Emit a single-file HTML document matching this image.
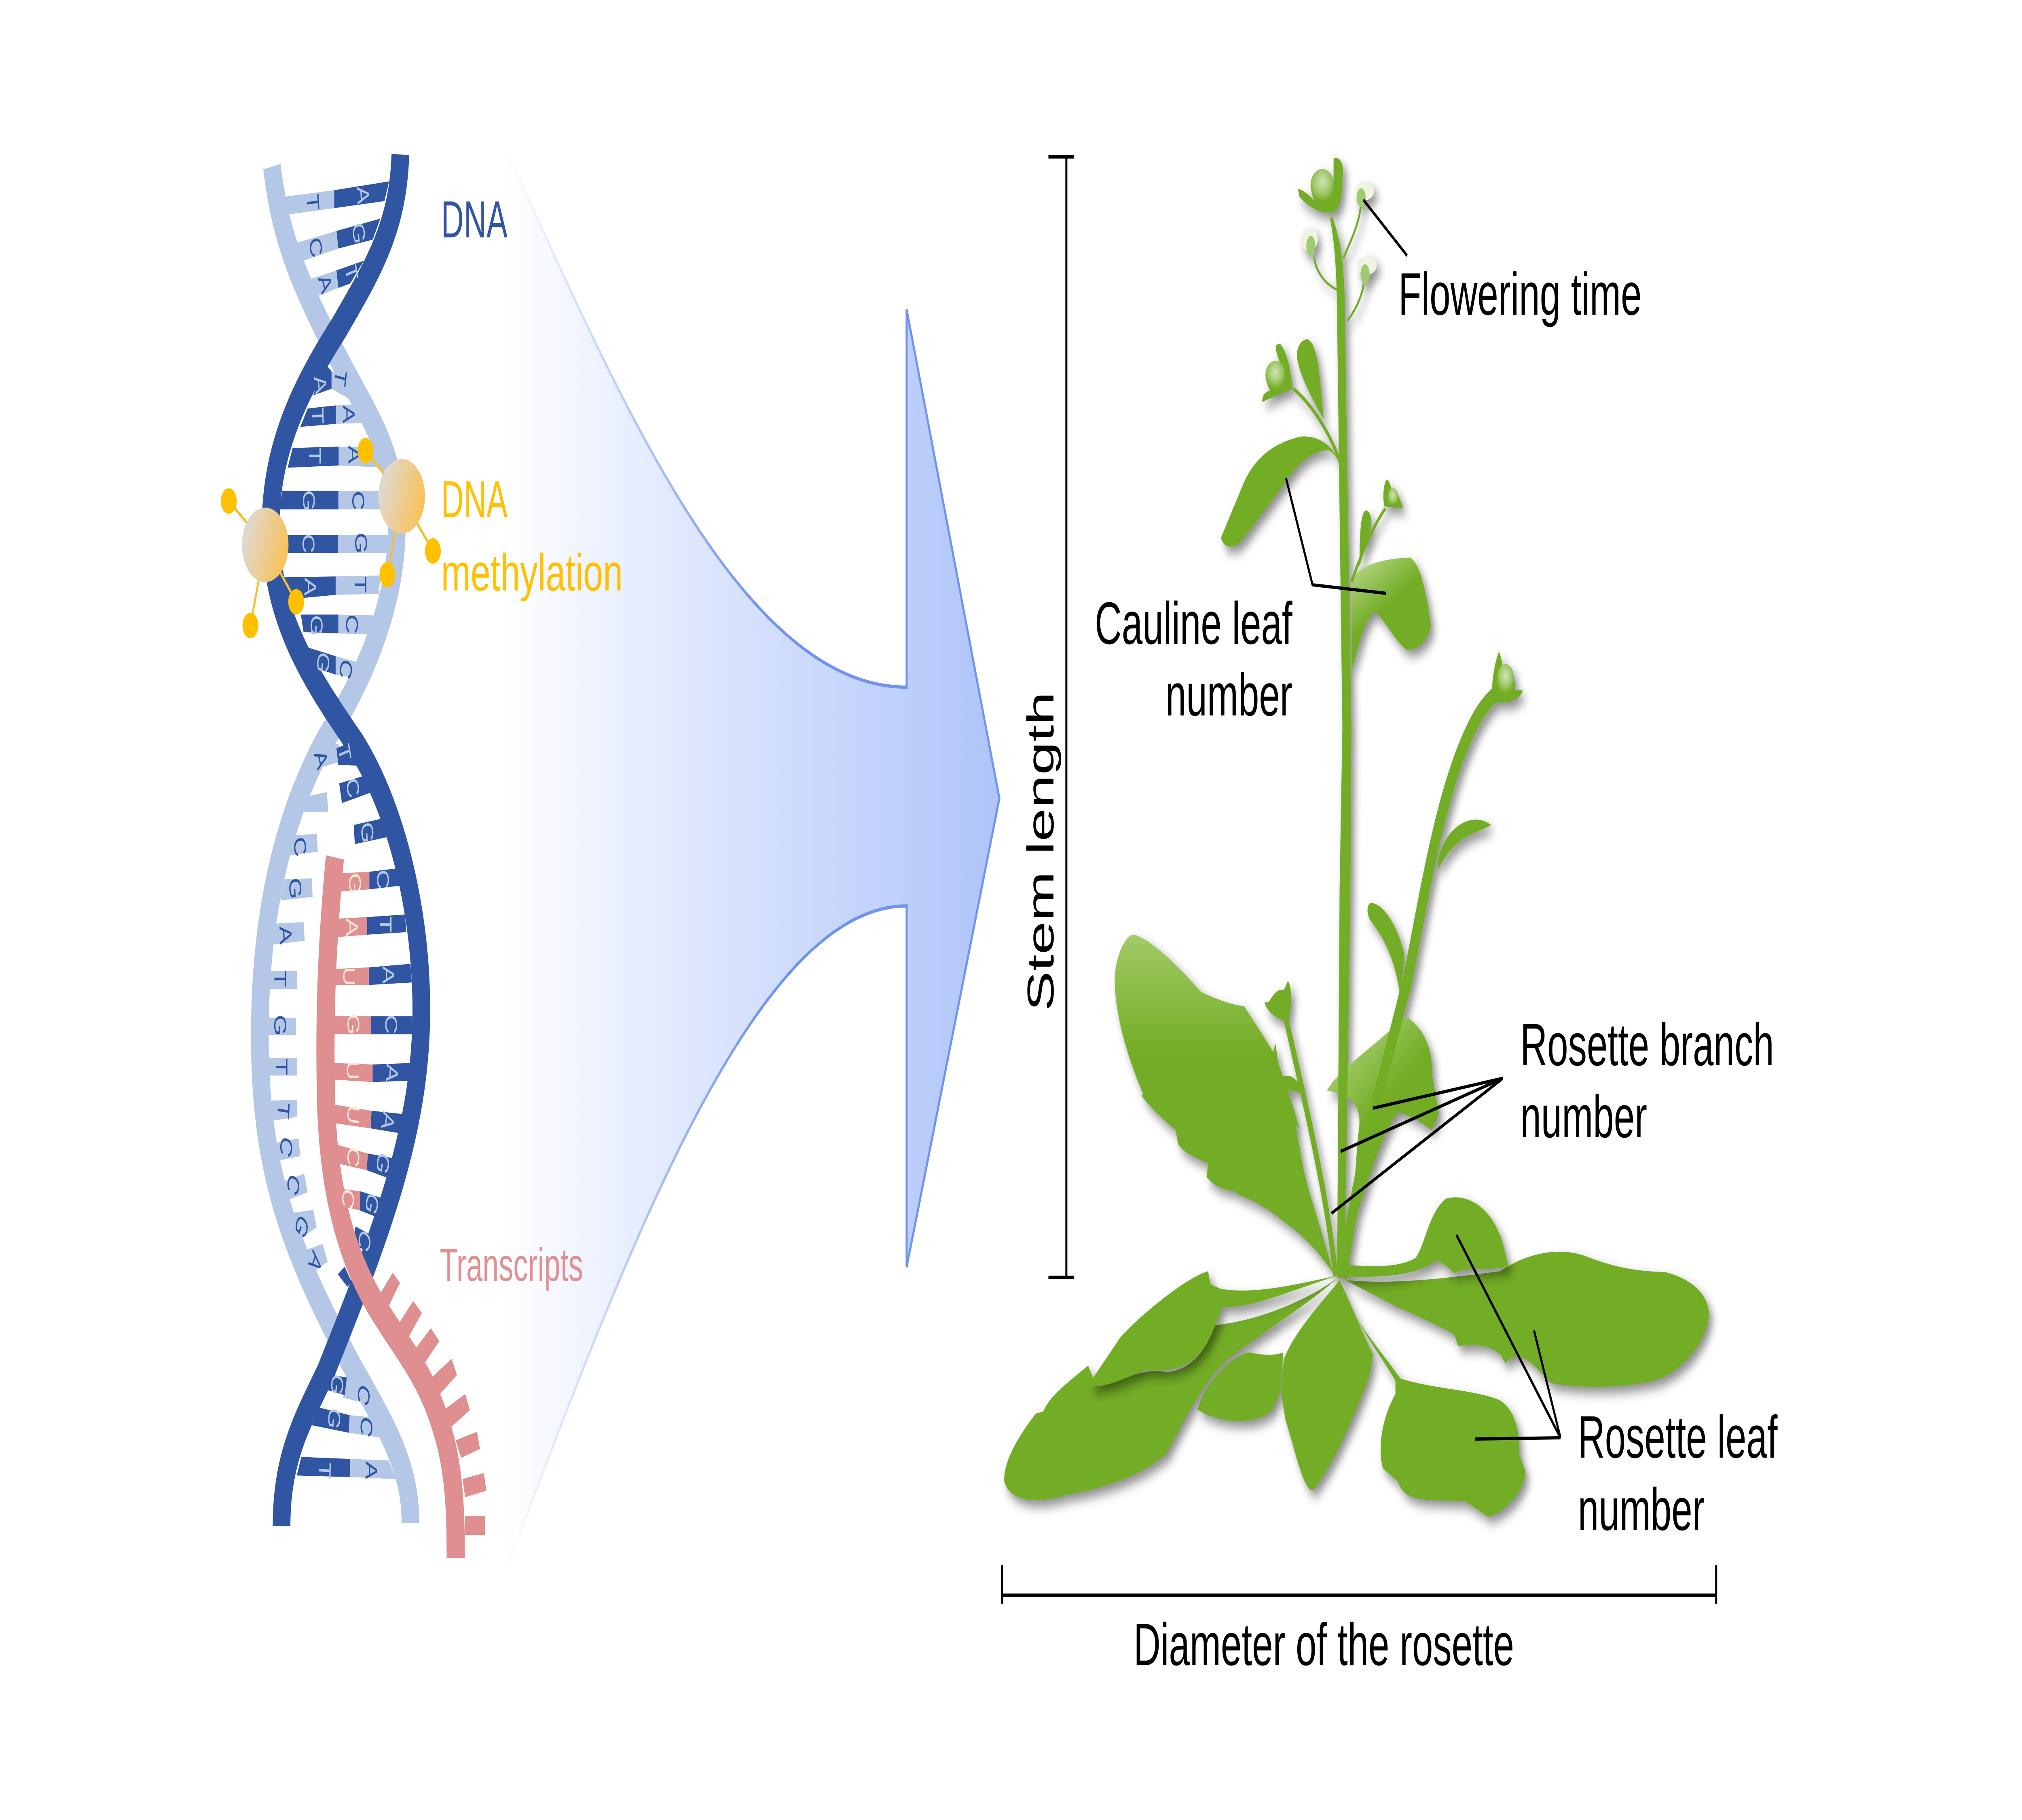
<!DOCTYPE html>
<html><head><meta charset="utf-8"><style>
html,body{margin:0;padding:0;background:#fff;width:100%;height:100%;overflow:hidden}
svg{display:block;width:100%;height:100%}
.l{text-anchor:middle;dominant-baseline:central;font:62px "Liberation Sans",sans-serif}
.d{fill:#2f55a3}.b{fill:#b4c7e7}.p{fill:#fbe5d6}
.t{font:148px "Liberation Sans",sans-serif;fill:#000}
.ln{stroke:#000;stroke-width:8;fill:none}
.g{fill:#73ad25}
</style></head><body>
<svg xmlns="http://www.w3.org/2000/svg" viewBox="0 0 8000 4500" preserveAspectRatio="none">
<defs>
<linearGradient id="ag" gradientUnits="userSpaceOnUse" x1="1990" y1="0" x2="3954" y2="0"><stop offset="0" stop-color="#fff"/><stop offset=".26" stop-color="#e8eefe"/><stop offset="1" stop-color="#aec4fa"/></linearGradient>
<linearGradient id="as" gradientUnits="userSpaceOnUse" x1="1990" y1="0" x2="3000" y2="0"><stop offset="0" stop-color="#fff"/><stop offset="1" stop-color="#6f93ee"/></linearGradient>
<linearGradient id="ball" x1="0" y1="0" x2="1" y2=".35"><stop offset="0" stop-color="#dbdde6"/><stop offset="1" stop-color="#f7c35f"/></linearGradient>
<linearGradient id="hl" x1="0" y1="0" x2="0" y2="1"><stop offset="0" stop-color="#a2cb68"/><stop offset=".35" stop-color="#73ad25"/></linearGradient>
<linearGradient id="cl" x1=".25" y1="0" x2=".5" y2=".4"><stop offset="0" stop-color="#aed27a"/><stop offset="1" stop-color="#73ad25"/></linearGradient>
<radialGradient id="fl" cx=".5" cy=".4" r=".6"><stop offset="0" stop-color="#d0e4b6"/><stop offset=".55" stop-color="#a5cb70"/><stop offset="1" stop-color="#73ad25"/></radialGradient>
<filter id="sh" filterUnits="userSpaceOnUse" x="3800" y="300" width="3300" height="3600"><feDropShadow dx="14" dy="16" stdDeviation="14" flood-color="#000" flood-opacity=".45"/></filter>
</defs>

<!-- arrow -->
<path d="M1990,357 C2400,900 2900,1699 3587,1699 L3587,765 L3954,1974 L3587,3133 L3587,2240 C3000,2240 2500,3050 1990,3903 Z" fill="url(#ag)"/>
<path d="M1990,357 C2400,900 2900,1699 3587,1699 L3587,765 L3954,1974 L3587,3133 L3587,2240 C3000,2240 2500,3050 1990,3903" fill="none" stroke="url(#as)" stroke-width="8"/>

<!-- light strand -->
<path d="M1076,412 C1110,590 1180,700 1385,940 C1500,1070 1570,1150 1570,1300 C1570,1500 1430,1690 1288,1828 C1120,2020 1028,2260 1028,2560 C1028,2900 1150,3090 1385,3368 C1520,3520 1625,3620 1624,3766" fill="none" stroke="#b4c7e7" stroke-width="70"/>

<!-- rungs, zoom 1 space -->
<g transform="translate(800,300) scale(1.084)">
<g class="b">
<polygon points="300,172 482,157 482,198 318,212"/>
<polygon points="340,278 490,250 497,290 360,320"/>
<polygon points="385,362 490,340 497,380 415,400"/>
<polygon points="472,572 530,565 555,640 472,610"/>
<polygon points="488,648 575,645 592,688 488,690"/>
<polygon points="498,742 655,745 680,790 498,785"/>
<polygon points="497,843 700,843 705,885 497,885"/>
<polygon points="495,943 680,943 680,985 495,985"/>
<polygon points="487,1038 650,1036 645,1078 487,1080"/>
<polygon points="497,1125 632,1127 608,1170 497,1168"/>
<polygon points="487,1220 575,1235 555,1270 487,1262"/>
<polygon points="420,1430 497,1420 505,1460 400,1480"/>
<polygon points="380,1540 455,1530 460,1575 370,1575"/>
</g>
<g class="d">
<polygon points="482,157 682,137 665,182 482,198"/>
<polygon points="490,250 650,222 622,270 497,290"/>
<polygon points="490,340 590,318 540,370 497,380"/>
<polygon points="445,550 472,570 472,610 405,625"/>
<polygon points="385,655 488,648 488,690 358,697"/>
<polygon points="330,745 498,742 498,785 312,790"/>
<polygon points="292,843 497,843 497,885 282,885"/>
<polygon points="300,943 495,943 495,985 300,985"/>
<polygon points="290,1040 487,1038 487,1080 320,1090"/>
<polygon points="360,1125 497,1125 497,1168 370,1165"/>
<polygon points="385,1200 487,1220 487,1262 430,1250"/>
<polygon points="490,1430 548,1415 585,1470 497,1468"/>
<polygon points="500,1510 605,1490 620,1530 510,1555"/>
</g>
</g>

<!-- rungs, zoom 2 space -->
<g transform="translate(800,2000) scale(1.084,1.244)">
<g class="b">
<polygon points="340,52 418,50 422,85 318,92"/>
<polygon points="300,140 400,138 403,175 285,182"/>
<polygon points="265,228 370,225 374,262 255,270"/>
<polygon points="250,322 346,322 346,358 245,358"/>
<polygon points="245,415 342,415 342,450 240,450"/>
<polygon points="243,495 347,495 347,530 243,530"/>
<polygon points="250,580 345,578 347,612 252,620"/>
<polygon points="258,665 352,655 358,690 270,700"/>
<polygon points="275,745 372,725 385,762 290,782"/>
<polygon points="305,805 405,797 418,832 340,860"/>
<polygon points="360,880 440,865 458,900 400,922"/>
<polygon points="520,1130 610,1130 650,1190 515,1170"/>
<polygon points="538,1205 635,1210 655,1250 535,1240"/>
<polygon points="540,1292 680,1295 708,1332 540,1328"/>
</g>
<g class="d">
<polygon points="553,32 650,20 685,55 557,70"/>
<polygon points="610,125 715,118 730,152 610,160"/>
<polygon points="602,215 740,210 745,245 602,250"/>
<polygon points="608,315 760,308 765,345 608,350"/>
<polygon points="617,412 767,412 767,448 617,448"/>
<polygon points="622,508 765,505 762,540 622,543"/>
<polygon points="618,600 742,607 725,645 615,635"/>
<polygon points="605,685 705,695 685,735 600,718"/>
<polygon points="577,760 665,775 640,812 575,798"/>
<polygon points="560,830 625,850 600,880 548,862"/>
<polygon points="495,925 520,910 545,940 530,950"/>
<polygon points="470,1125 528,1130 520,1165 455,1155"/>
<polygon points="428,1190 538,1205 535,1240 400,1225"/>
<polygon points="362,1288 540,1292 540,1328 345,1325"/>
</g>
</g>

<!-- dark strand -->
<path d="M1584,382 C1575,560 1480,660 1342,809 C1200,950 1071,1100 1071,1300 C1071,1520 1210,1660 1407,1839 C1560,1990 1667,2240 1667,2498 C1667,2800 1500,3060 1288,3393 C1200,3510 1114,3600 1114,3773" fill="none" stroke="#2f55a3" stroke-width="70"/>

<!-- pink -->
<path d="M1325,2120 C1295,2320 1282,2500 1290,2720 C1300,2960 1380,3120 1500,3240 C1620,3360 1700,3410 1765,3570 C1800,3660 1803,3760 1803,3852" fill="none" stroke="#df8f8f" stroke-width="72"/>
<g transform="translate(800,2000) scale(1.084,1.244)" fill="#df8f8f">
<polygon points="505,128 610,125 610,160 495,165"/>
<polygon points="490,218 602,215 602,250 488,255"/>
<polygon points="485,318 608,315 608,350 480,350"/>
<polygon points="480,412 617,412 617,448 480,448"/>
<polygon points="480,505 622,508 622,543 480,538"/>
<polygon points="485,588 618,600 615,635 488,625"/>
<polygon points="495,668 605,685 600,718 497,705"/>
<polygon points="505,755 577,760 575,798 515,790"/>
<polygon points="695,922 722,942 675,995 645,968"/>
<polygon points="770,978 802,1002 748,1055 715,1025"/>
<polygon points="835,1032 865,1058 808,1105 775,1075"/>
<polygon points="910,1093 930,1125 865,1165 838,1130"/>
<polygon points="960,1163 977,1195 910,1228 888,1192"/>
<polygon points="1003,1238 1014,1272 945,1290 925,1255"/>
<polygon points="1028,1320 1037,1355 960,1368 950,1332"/>
<polygon points="1032,1405 1032,1443 958,1443 958,1405"/>
</g>

<!-- base letters -->
<g transform="translate(800,300) scale(1.084)">
<text class="l d" transform="translate(405,185) rotate(85)">T</text>
<text class="l b" transform="translate(587,168) rotate(85)">A</text>
<text class="l d" transform="translate(415,287) rotate(75)">C</text>
<text class="l b" transform="translate(572,255) rotate(80)">G</text>
<text class="l d" transform="translate(450,370) rotate(70)">A</text>
<text class="l b" transform="translate(545,345) rotate(75)">T</text>
<text class="l d" transform="translate(505,585) rotate(100)">T</text>
<text class="l b" transform="translate(432,600) rotate(80)">A</text>
<text class="l b" transform="translate(422,672) rotate(88)">T</text>
<text class="l d" transform="translate(535,668) rotate(90)">A</text>
<text class="l b" transform="translate(412,763) rotate(90)">T</text>
<text class="l d" transform="translate(555,760) rotate(90)">A</text>
<text class="l b" transform="translate(390,865) rotate(90)">G</text>
<text class="l d" transform="translate(570,865) rotate(90)">C</text>
<text class="l b" transform="translate(388,963) rotate(90)">C</text>
<text class="l d" transform="translate(580,962) rotate(90)">G</text>
<text class="l b" transform="translate(395,1062) rotate(92)">A</text>
<text class="l d" transform="translate(578,1057) rotate(90)">T</text>
<text class="l b" transform="translate(418,1150) rotate(92)">G</text>
<text class="l d" transform="translate(547,1147) rotate(92)">C</text>
<text class="l b" transform="translate(442,1235) rotate(100)">G</text>
<text class="l d" transform="translate(525,1250) rotate(100)">C</text>
<text class="l d" transform="translate(435,1455) rotate(70)">A</text>
<text class="l b" transform="translate(520,1440) rotate(75)">T</text>
<text class="l b" transform="translate(550,1520) rotate(75)">C</text>
</g>
<g transform="translate(800,2000) scale(1.084,1.244)">
<text class="l b" transform="translate(603,47) rotate(85) scale(.87,1)">G</text>
<text class="l d" transform="translate(357,75) rotate(80) scale(.87,1)">C</text>
<text class="l d" transform="translate(340,158) rotate(85) scale(.87,1)">G</text>
<text class="l d" transform="translate(305,250) rotate(85) scale(.87,1)">A</text>
<text class="l d" transform="translate(285,338) rotate(90) scale(.87,1)">T</text>
<text class="l d" transform="translate(285,430) rotate(90) scale(.87,1)">G</text>
<text class="l d" transform="translate(290,513) rotate(90) scale(.87,1)">T</text>
<text class="l d" transform="translate(297,600) rotate(95) scale(.87,1)">T</text>
<text class="l d" transform="translate(307,672) rotate(105) scale(.87,1)">C</text>
<text class="l d" transform="translate(333,747) rotate(112) scale(.87,1)">C</text>
<text class="l d" transform="translate(363,830) rotate(120) scale(.87,1)">G</text>
<text class="l d" transform="translate(413,900) rotate(120) scale(.87,1)">A</text>
<text class="l b" transform="translate(660,140) rotate(85) scale(.87,1)">C</text>
<text class="l b" transform="translate(670,230) rotate(90) scale(.87,1)">T</text>
<text class="l b" transform="translate(680,330) rotate(90) scale(.87,1)">A</text>
<text class="l b" transform="translate(690,428) rotate(90) scale(.87,1)">C</text>
<text class="l b" transform="translate(693,525) rotate(95) scale(.87,1)">A</text>
<text class="l b" transform="translate(678,620) rotate(100) scale(.87,1)">A</text>
<text class="l b" transform="translate(660,705) rotate(105) scale(.87,1)">G</text>
<text class="l b" transform="translate(620,785) rotate(110) scale(.87,1)">G</text>
<text class="l b" transform="translate(592,858) rotate(115) scale(.87,1)">C</text>
<text class="l p" transform="translate(558,148) rotate(85) scale(.87,1)">G</text>
<text class="l p" transform="translate(547,235) rotate(90) scale(.87,1)">A</text>
<text class="l p" transform="translate(537,333) rotate(90) scale(.87,1)">U</text>
<text class="l p" transform="translate(552,428) rotate(90) scale(.87,1)">G</text>
<text class="l p" transform="translate(550,520) rotate(90) scale(.87,1)">U</text>
<text class="l p" transform="translate(552,608) rotate(95) scale(.87,1)">U</text>
<text class="l p" transform="translate(552,692) rotate(100) scale(.87,1)">C</text>
<text class="l p" transform="translate(533,775) rotate(105) scale(.87,1)">C</text>
<text class="l b" transform="translate(493,1145) rotate(100) scale(.87,1)">G</text>
<text class="l b" transform="translate(482,1212) rotate(100) scale(.87,1)">G</text>
<text class="l b" transform="translate(448,1315) rotate(92) scale(.87,1)">T</text>
<text class="l d" transform="translate(590,1165) rotate(110) scale(.87,1)">C</text>
<text class="l d" transform="translate(600,1228) rotate(105) scale(.87,1)">C</text>
<text class="l d" transform="translate(618,1315) rotate(92) scale(.87,1)">A</text>
</g>

<!-- methylation -->
<g transform="translate(800,300) scale(1.084)">
<g stroke="#f5bf2c" stroke-width="7">
<line x1="97" y1="866" x2="230" y2="966"/><line x1="176" y1="1150" x2="230" y2="966"/><line x1="343" y1="1096" x2="230" y2="966"/>
<line x1="596" y1="751" x2="728" y2="855"/><line x1="676" y1="1034" x2="728" y2="855"/><line x1="842" y1="980" x2="728" y2="855"/>
</g>
<circle cx="230" cy="966" r="85" fill="url(#ball)"/>
<circle cx="728" cy="855" r="85" fill="url(#ball)"/>
<g fill="#ffc000"><circle cx="97" cy="866" r="29"/><circle cx="176" cy="1150" r="29"/><circle cx="343" cy="1096" r="29"/><circle cx="596" cy="751" r="29"/><circle cx="676" cy="1034" r="29"/><circle cx="842" cy="980" r="29"/></g>
</g>

<!-- left labels -->
<g font-family="'Liberation Sans',sans-serif">
<text x="1745" y="587" font-size="129" fill="#2f55a3" textLength="263" lengthAdjust="spacingAndGlyphs">DNA</text>
<text x="1745" y="1279" font-size="129" fill="#ffc000" textLength="263" lengthAdjust="spacingAndGlyphs">DNA</text>
<text x="1745" y="1460" font-size="129" fill="#ffc000" textLength="719" lengthAdjust="spacingAndGlyphs">methylation</text>
<text x="1740" y="3167" font-size="115" fill="#e09090" textLength="567" lengthAdjust="spacingAndGlyphs">Transcripts</text>
</g>

<!-- plant -->
<g filter="url(#sh)">
<g transform="translate(3900,2200) scale(1.977,1.084)">
<path fill="url(#cl)" d="M683,458 C700,420 760,370 800,330 C820,310 835,295 845,292 C880,320 895,370 893,420 L907,510 L893,548 C870,530 845,510 825,508 C800,540 770,640 730,790 L745,560 C755,500 740,470 683,458 Z"/>
<path fill="url(#hl)" d="M295,102 C330,110 390,180 430,232 C460,250 500,265 517,265 C530,290 555,330 575,370 L580,350 L585,395 C600,440 620,510 628,545 L620,535 L630,600 C640,680 670,760 695,875 C680,850 650,800 600,760 C570,730 530,705 505,695 L498,688 C480,685 460,680 442,655 L445,625 C420,610 395,600 385,580 L380,548 C350,520 325,490 312,470 L315,465 C290,400 260,300 258,210 C258,150 280,105 295,102 Z"/>
<path class="g" d="M770,30 C800,30 830,100 838,150 L830,250 C820,150 790,100 770,70 C762,55 762,35 770,30 Z"/>
<path class="g" d="M565,470 C565,440 590,420 610,425 C625,435 635,450 640,470 C620,455 590,450 580,475 Z"/>
<path class="g" d="M605,208 C615,230 612,270 605,300 C590,300 560,280 558,255 C570,265 570,235 590,228 C600,232 600,215 605,208 Z"/>
</g>
<path fill="none" stroke="#73ad25" stroke-width="20" d="M5284,3154 C5250,2950 5165,2731 5086,2514"/>
<path fill="none" stroke="#73ad25" stroke-width="38" d="M5310,3160 C5370,2880 5480,2650 5570,2420 C5640,2200 5700,1950 5830,1790 C5870,1740 5910,1720 5935,1705"/>
<path class="g" d="M5270,534 C5310,600 5315,660 5320,730 L5347,1800 L5343,2200 L5320,3160 L5290,3160 L5300,2200 L5311,1800 L5289,730 C5285,650 5280,600 5262,540 Z"/>
<path class="g" d="M5690,2125 C5720,2040 5830,2005 5900,2040 C5850,2060 5760,2060 5690,2150 Z"/>

<g transform="translate(4500,300) scale(1.283,.957)">
<path class="g" d="M605,95 C625,90 640,110 632,150 C632,190 625,225 605,235 C570,240 530,225 500,195 L495,175 C510,175 535,195 545,205 C530,170 530,135 560,128 C590,128 605,160 605,150 Z"/>
<ellipse cx="570" cy="165" rx="36" ry="42" fill="url(#fl)"/>
<path class="g" d="M525,563 C555,575 560,640 575,770 C540,720 490,640 492,600 C495,575 510,563 525,563 Z"/>
<path class="g" d="M440,575 C460,590 475,650 478,690 L385,725 C385,705 395,700 410,695 C390,670 395,630 425,620 L440,625 C425,590 420,575 440,575 Z"/>
<ellipse cx="425" cy="655" rx="30" ry="36" fill="url(#fl)"/>
<path class="g" d="M625,885 C600,830 550,810 500,815 C430,830 370,860 330,930 L258,1075 C265,1105 295,1105 320,1085 L450,940 C490,890 530,850 590,850 C605,855 615,870 625,885 Z"/>
<path class="g" d="M705,1005 C725,1010 725,1040 710,1080 L685,1150 C685,1100 685,1010 705,1005 Z"/>
<path class="g" d="M770,925 C785,940 780,950 785,950 C805,955 815,990 820,1000 L762,995 C755,970 760,930 770,925 Z"/>
<ellipse cx="788" cy="970" rx="16" ry="22" fill="url(#fl)"/>
<path fill="url(#cl)" d="M660,1180 C700,1140 770,1130 840,1127 C875,1140 895,1240 905,1300 C900,1340 860,1370 830,1365 C790,1340 760,1280 730,1268 C695,1290 680,1370 660,1420 Z"/>
<path class="g" d="M1115,1370 C1130,1400 1120,1410 1130,1405 C1160,1410 1165,1450 1165,1470 L1188,1470 C1180,1500 1130,1505 1100,1500 C1085,1480 1100,1400 1115,1370 Z"/>
<ellipse cx="1135" cy="1440" rx="26" ry="38" fill="url(#fl)"/>
<g fill="none" stroke="#73ad25">
<path stroke-width="6" d="M635,355 C650,320 680,280 690,215"/>
<path stroke-width="6" d="M615,435 C580,420 550,390 545,350"/>
<path stroke-width="6" d="M648,515 C670,490 690,460 698,420"/>
<path stroke-width="9" d="M625,880 C600,820 550,740 480,690"/>
<path stroke-width="8" d="M660,1190 C690,1120 730,1040 765,1000"/>
</g>
<ellipse cx="700" cy="180" rx="30" ry="24" fill="#eef3e2"/>
<ellipse cx="530" cy="305" rx="26" ry="30" fill="#eef3e2"/>
<ellipse cx="708" cy="372" rx="30" ry="24" fill="#eef3e2"/>
<ellipse cx="690" cy="197" rx="14" ry="24" fill="#9fcb6f"/>
<ellipse cx="535" cy="322" rx="14" ry="26" fill="#9fcb6f"/>
<ellipse cx="702" cy="395" rx="14" ry="26" fill="#9fcb6f"/>
</g>

<g transform="translate(3900,2200) scale(1.977,1.084)">
<path class="g" d="M705,885 C650,930 560,980 460,993 L455,1000 C440,1060 400,1100 360,1100 C320,1090 280,1115 220,1130 L205,1085 C170,1120 130,1150 115,1190 L100,1195 C70,1240 35,1300 37,1350 C50,1400 110,1400 160,1380 C230,1370 320,1330 350,1295 L360,1290 C400,1200 440,1120 480,1075 C540,1020 640,950 705,885 Z"/>
</g>
</g>
<g filter="url(#sh)"><g transform="translate(3900,2200) scale(1.977,1.084)">
<path class="g" d="M705,880 C640,895 540,925 470,910 L450,900 L445,870 C400,885 310,970 270,1020 L205,1130 C240,1140 280,1110 325,1095 C370,1100 410,1090 440,1040 C460,1000 470,960 475,950 C520,960 620,910 705,880 Z"/>
</g></g>
<g filter="url(#sh)"><g transform="translate(3900,2200) scale(1.977,1.084)">
<path class="g" d="M595,1065 C590,1130 590,1160 570,1190 C540,1220 470,1220 423,1185 C440,1130 480,1070 525,1055 C550,1060 575,1065 595,1055 Z"/>
<path class="g" d="M708,890 C690,920 620,1000 597,1070 L590,1140 L600,1210 C620,1280 635,1370 655,1370 C690,1320 740,1200 770,1100 L775,1060 C750,1000 725,930 708,890 Z"/>
<path class="g" d="M730,950 C760,1020 800,1080 820,1120 L820,1150 C790,1210 785,1280 795,1320 L825,1350 C840,1400 880,1390 960,1395 L1005,1430 C1040,1420 1080,1370 1080,1325 L1068,1290 C1068,1230 1060,1190 1030,1165 C980,1140 900,1140 830,1115 C790,1050 750,1000 730,950 Z"/>
<path class="g" d="M720,890 C800,900 900,890 1030,870 C1080,830 1150,810 1210,840 C1270,865 1310,870 1360,872 C1420,890 1450,930 1447,975 C1440,1030 1400,1090 1350,1115 C1300,1135 1200,1140 1130,1125 C1100,1090 1070,1040 1040,1080 L1030,1060 C1000,1030 960,1040 945,1040 L938,1015 C900,990 860,970 820,950 C790,930 750,910 720,890 Z"/>
</g></g>
<g filter="url(#sh)"><g transform="translate(3900,2200) scale(1.977,1.084)">
<path class="g" d="M720,855 C780,862 830,860 860,840 C880,810 885,740 920,705 C960,690 1020,720 1040,830 L1047,860 C1000,870 950,860 940,875 C920,860 910,840 895,850 C860,880 790,885 720,882 Z"/>
</g></g>

<!-- annotation lines -->
<g class="ln">
<line x1="5394" y1="494" x2="5567" y2="632"/>
<polyline points="5088,1182 5193,1446 5484,1467"/>
<line x1="5946" y1="2666" x2="5432" y2="2740"/><line x1="5946" y1="2666" x2="5304" y2="2847"/><line x1="5946" y1="2666" x2="5268" y2="3000"/>
<line x1="6174" y1="3555" x2="5762" y2="3053"/><line x1="6174" y1="3555" x2="6069" y2="3289"/><line x1="6174" y1="3555" x2="5837" y2="3558"/>
<line x1="4219" y1="388" x2="4219" y2="3158"/><line x1="4148" y1="388" x2="4250" y2="388"/><line x1="4148" y1="3158" x2="4250" y2="3158"/>
<line x1="3965" y1="3944" x2="6790" y2="3944"/><line x1="3965" y1="3870" x2="3965" y2="3965"/><line x1="6790" y1="3870" x2="6790" y2="3965"/>
</g>

<!-- right labels -->
<text class="t" x="5533" y="778">Flowering time</text>
<text class="t" x="5113" y="1592" text-anchor="end">Cauline leaf</text>
<text class="t" x="5113" y="1769" text-anchor="end">number</text>
<text class="t" x="6015" y="2634">Rosette branch</text>
<text class="t" x="6015" y="2812">number</text>
<text class="t" x="6243" y="3604">Rosette leaf</text>
<text class="t" x="6243" y="3783">number</text>
<text class="t" x="4485" y="4117">Diameter of the rosette</text>
<text class="t" transform="translate(4168,2500) rotate(-90)">Stem length</text>
</svg>
</body></html>
